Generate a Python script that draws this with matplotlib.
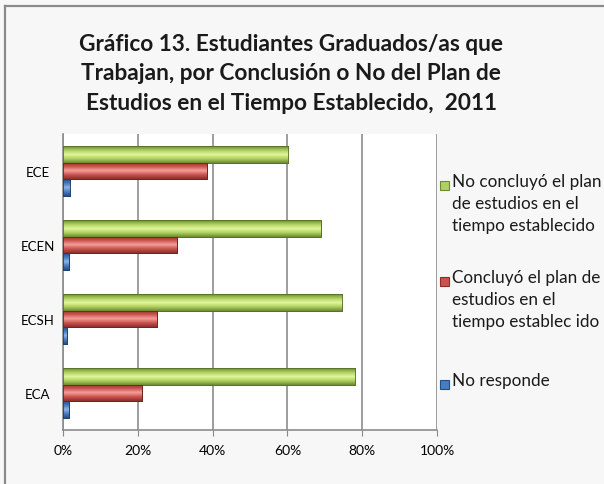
import matplotlib as mpl
mpl.use('Agg')
import matplotlib.pyplot as plt
import numpy as np
from matplotlib.patches import Rectangle

categories = ['ECA', 'ECSH', 'ECEN', 'ECE']
no_concluyo = [78.2, 74.7, 68.9, 60.2]
concluyo = [21.0, 25.0, 30.4, 38.4]
no_responde = [1.5, 1.0, 1.5, 2.0]
x_ticks = [0, 20, 40, 60, 80, 100]
x_labels = ['0%', '20%', '40%', '60%', '80%', '100%']
series_labels = ['No concluyó el plan\nde estudios en el\ntiempo establecido',
                 'Concluyó el plan de\nestudios en el\ntiempo establec ido',
                 'No responde']

plt.rcParams['font.family'] = ['Lato', 'DejaVu Sans']

fig = plt.figure(figsize=(6.04, 4.85), dpi=100)
fig.patch.set_facecolor('#f7f7f7')
# outer frame (only left and top visible in the picture)
fig.add_artist(plt.Line2D([5/604, 5/604], [0, 1 - 7/485], color='#8a8a8a', lw=1.6))
fig.add_artist(plt.Line2D([5/604, 1], [1 - 7/485, 1 - 7/485], color='#8a8a8a', lw=1.6))

ax = fig.add_axes([63/604, 1 - 431/485, 374/604, 296/485])
ax.set_facecolor('white')

colors = {
    'green': ('#e2f79c', '#aed160', '#6d8a2f', '#55702a'),
    'red': ('#f3a09c', '#cc524e', '#8e2f2c', '#6e2220'),
    'blue': ('#8cb3e6', '#4a7bbd', '#244f86', '#1c3f6c'),
}

h = 0.225
y = np.arange(len(categories))


def shaded_bars(ypos, vals, key):
    top, mid, bot, edge = colors[key]
    bars = ax.barh(ypos, vals, height=h, color=mid, edgecolor=edge, lw=0.6, zorder=3)
    cmap = mpl.colors.LinearSegmentedColormap.from_list(key, [bot, mid, top, mid, bot])
    grad = np.linspace(0, 1, 64).reshape(-1, 1)
    for b in bars:
        x0, y0 = b.get_x(), b.get_y()
        w, hh = b.get_width(), b.get_height()
        im = ax.imshow(grad, cmap=cmap, aspect='auto', origin='lower',
                       extent=[x0, x0 + w, y0, y0 + hh], zorder=3.5,
                       interpolation='bilinear')
        im.set_clip_path(b)
        ax.add_patch(Rectangle((x0, y0), w, hh, fill=False, ec=edge, lw=0.6, zorder=4))
    return bars


shaded_bars(y + h, no_concluyo, 'green')
shaded_bars(y, concluyo, 'red')
shaded_bars(y - h, no_responde, 'blue')

ax.set_xlim(0, 100)
ax.set_ylim(-0.5, len(categories) - 0.5)
ax.set_xticks(x_ticks)
ax.set_xticklabels(x_labels, fontsize=10)
ax.set_yticks(y)
ax.set_yticklabels(categories, fontsize=9.5, ha='center')
ax.tick_params(axis='y', length=0, pad=18)
ax.tick_params(axis='x', length=4, color='#888888', pad=6)
ax.grid(axis='x', color='#8c8c8c', lw=1.2, zorder=1)
for s in ['top', 'right']:
    ax.spines[s].set_visible(False)
ax.spines['left'].set_color('#8c8c8c')
ax.spines['bottom'].set_color('#8c8c8c')
ax.spines['left'].set_linewidth(1.2)
ax.spines['bottom'].set_linewidth(1.2)

fig.text(291/604, 1 - 34/485,
         'Gráfico 13. Estudiantes Graduados/as que\n'
         'Trabajan, por Conclusión o No del Plan de\n'
         'Estudios en el Tiempo Establecido,  2011',
         ha='center', va='top', fontsize=16.3, fontweight='bold',
         linespacing=1.5, color='#1a1a1a')

# legend drawn by hand so the marker sits on the first text line
leg_y = [186, 282, 385]
leg_cols = ['green', 'red', 'blue']
for ly, lab, key in zip(leg_y, series_labels, leg_cols):
    top, mid, bot, edge = colors[key]
    fig.add_artist(Rectangle((440/604, 1 - (ly + 5)/485), 9/604, 9/485,
                             transform=fig.transFigure, fc=mid, ec=bot, lw=0.8))
    fig.text(452/604, 1 - (ly - 12)/485, lab, ha='left', va='top',
             fontsize=12.3, linespacing=1.48, color='#1a1a1a')

fig.savefig('out.png', dpi=100, facecolor=fig.get_facecolor())
